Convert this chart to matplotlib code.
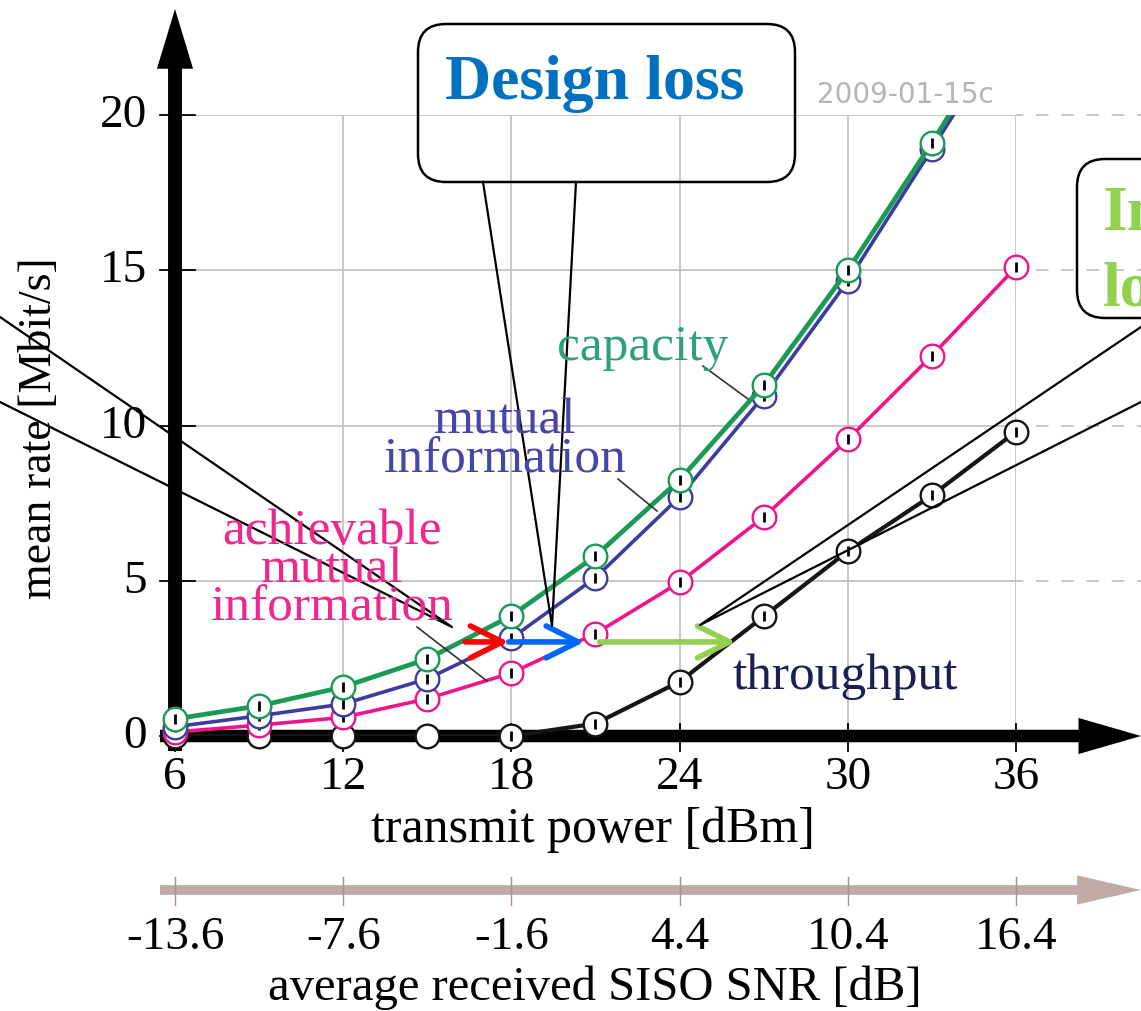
import matplotlib.pyplot as plt
from matplotlib.patches import FancyArrowPatch, FancyBboxPatch

# measured points, transmit power in dBm
tx_power = [6, 9, 12, 15, 18, 21, 24, 27, 30, 33, 36]
capacity = [0.55, 0.97, 1.58, 2.48, 3.87, 5.8, 8.25, 11.3, 15.0, 19.1, 23.5]
mutual_info = [0.3, 0.65, 1.03, 1.84, 3.15, 5.1, 7.7, 10.95, 14.65, 18.9, 23.2]
achievable_mi = [0.13, 0.35, 0.6, 1.2, 2.03, 3.3, 4.95, 7.05, 9.55, 12.25, 15.1]
throughput = [0, 0, 0, 0, 0, 0.4, 1.75, 3.85, 5.95, 7.75, 9.8]

x_ticks = [6, 12, 18, 24, 30, 36]
y_ticks = [0, 5, 10, 15, 20]
snr_labels = ['-13.6', '-7.6', '-1.6', '4.4', '10.4', '16.4']

# loss arrows (from, to) in dBm, drawn at ~3 Mbit/s
loss_rate = 3.03
red_arrow = (16.35, 17.9)
blue_arrow = (17.9, 20.6)
green_arrow = (21.15, 26.0)

SERIF = 'Liberation Serif'
W, H = 1141, 1012

fig = plt.figure(figsize=(W / 100, H / 100), dpi=100)
ax = fig.add_axes([175 / W, (H - 737) / H, (1016 - 175) / W, (737 - 116) / H])
ax.set_xlim(6, 36)
ax.set_ylim(0, 20)
ax.axis('off')


# pixel -> data helpers (for things hanging outside the plot area)
def px(x):
    return 6 + (x - 175) / 28.033


def py(y):
    return (737 - y) / 31.05


# grid
for t in x_ticks[1:]:
    ax.plot([t, t], [0, 20], color='#c4c4c4', lw=1.3, zorder=0.5)
for v in y_ticks[1:]:
    ax.plot([6, 36], [v, v], color='#c4c4c4', lw=1.3, zorder=0.5)
    ax.plot([36, px(1141)], [v, v], color='#c4c4c4', lw=1.3, ls=(3, (7, 7)),
            zorder=0.5, clip_on=False)

# axis arrows
ax.add_patch(FancyArrowPatch((px(160), 0), (px(1141), 0),
                             arrowstyle='simple,head_length=45,head_width=26,tail_width=9',
                             mutation_scale=1, fc='k', ec='none', lw=0,
                             shrinkA=0, shrinkB=0, clip_on=False, zorder=1))
ax.add_patch(FancyArrowPatch((6, py(752)), (6, py(10)),
                             arrowstyle='simple,head_length=43,head_width=26,tail_width=10',
                             mutation_scale=1, fc='k', ec='none', lw=0,
                             shrinkA=0, shrinkB=0, clip_on=False, zorder=1))
ax.add_patch(FancyArrowPatch((px(160), py(891)), (px(1141), py(891)),
                             arrowstyle='simple,head_length=46,head_width=21,tail_width=7',
                             mutation_scale=1, fc='#bfaaa6', ec='none', lw=0,
                             shrinkA=0, shrinkB=0, clip_on=False, zorder=1))

# ticks and labels
for t, s in zip(x_ticks, snr_labels):
    ax.plot([t, t], [py(725), py(752)], color='k', lw=1.3, clip_on=False, zorder=1.2)
    ax.plot([t, t], [py(878), py(906)], color='#a88f8a', lw=1.0, clip_on=False, zorder=1.2)
    ax.text(t, py(778), str(t), ha='center', va='center', fontsize=34, family=SERIF)
    ax.text(t, py(938), s, ha='center', va='center', fontsize=34, family=SERIF)
for v in y_ticks:
    ax.plot([px(160), px(195)], [v, v], color='k', lw=1.3, clip_on=False, zorder=1.2)
    ax.text(px(147), v, str(v), ha='right', va='center', fontsize=34, family=SERIF)

ax.text(px(593), py(830), 'transmit power [dBm]', ha='center', va='center',
        fontsize=36, family=SERIF)
ax.text(px(595), py(988), 'average received SISO SNR [dB]', ha='center', va='center',
        fontsize=35, family=SERIF)
ax.text(px(40), py(428), 'mean rate [Mbit/s]', ha='center', va='center',
        rotation=90, fontsize=33, family=SERIF)
ax.text(px(905), py(95), '2009-01-15c', ha='center', va='center',
        fontsize=20, color='#b4b4b4', family='DejaVu Sans')

# curves
series = [
    (throughput, '#151515', 3.0),
    (achievable_mi, '#f0148c', 2.6),
    (mutual_info, '#3c3ca0', 2.6),
    (capacity, '#1a9a55', 3.4),
]
for i, (vals, col, lw) in enumerate(series):
    z = 3 + i
    ax.plot(tx_power, vals, color=col, lw=lw, zorder=z)
    xs = [x for x, v in zip(tx_power, vals) if v <= 20]
    ys = [v for v in vals if v <= 20]
    ax.plot(xs, ys, 'o', ms=17, mfc='white', mec=col, mew=1.7,
            clip_on=False, zorder=z + 0.1)
    dx = [x for x, v in zip(xs, ys) if not (v == 0 and x < 18)]
    dy = [v for x, v in zip(xs, ys) if not (v == 0 and x < 18)]
    ax.plot(dx, dy, '|', ms=7, mew=2.0, color='k', clip_on=False, zorder=z + 0.2)

# loss arrows
for (x0, x1), col in [(red_arrow, '#ff0000'), (blue_arrow, '#0066ff'),
                      (green_arrow, '#92d050')]:
    ax.add_patch(FancyArrowPatch((x0, loss_rate), (x1, loss_rate),
                                 arrowstyle='->,head_length=23,head_width=11.5',
                                 mutation_scale=1, color=col, lw=4,
                                 capstyle='round', joinstyle='round',
                                 shrinkA=0, shrinkB=0, clip_on=False, zorder=10))

# overlay in pixel coordinates for labels and callouts
ov = fig.add_axes([0, 0, 1, 1], zorder=5)
ov.set_xlim(0, W)
ov.set_ylim(H, 0)
ov.axis('off')

ov.text(643, 348, 'capacity', color='#2ea07a', fontsize=37, ha='center', va='center', family=SERIF)
ov.plot([703, 748], [367, 400], color='#333333', lw=1.2)
ov.text(505, 441, 'mutual\ninformation', color='#4646a8', fontsize=37, ha='center',
        va='center', linespacing=0.78, family=SERIF)
ov.plot([618, 657], [480, 512], color='#333333', lw=1.2)
ov.text(332, 570, 'achievable\nmutual\ninformation', color='#f0288c', fontsize=37,
        ha='center', va='center', linespacing=0.78, family=SERIF)
ov.plot([417, 487], [628, 682], color='#333333', lw=1.2)
ov.text(845, 677, 'throughput', color='#1a2050', fontsize=37, ha='center', va='center',
        family=SERIF)

# callouts
ov.add_patch(FancyBboxPatch((418, 25), 377, 158, boxstyle='round,pad=0,rounding_size=28',
                            fc='none', ec='k', lw=1.8))
ov.text(595, 84, 'Design loss', color='#0070c0', fontsize=46, fontweight='bold',
        ha='center', va='center', family=SERIF)
ov.plot([483, 552, 576], [183, 627, 183], color='k', lw=1.6)

ov.add_patch(FancyBboxPatch((1077, 160), 400, 159, boxstyle='round,pad=0,rounding_size=28',
                            fc='none', ec='k', lw=1.8))
ov.text(1103, 215, 'Implementation', color='#92d050', fontsize=46, fontweight='bold',
        ha='left', va='center', family=SERIF)
ov.text(1103, 290, 'loss', color='#92d050', fontsize=46, fontweight='bold',
        ha='left', va='center', family=SERIF)
ov.plot([1141, 700, 1141], [328, 626, 403], color='k', lw=1.6)

ov.plot([0, 452, 0], [318, 628, 403], color='k', lw=1.6)

fig.savefig('out.png', dpi=100)
